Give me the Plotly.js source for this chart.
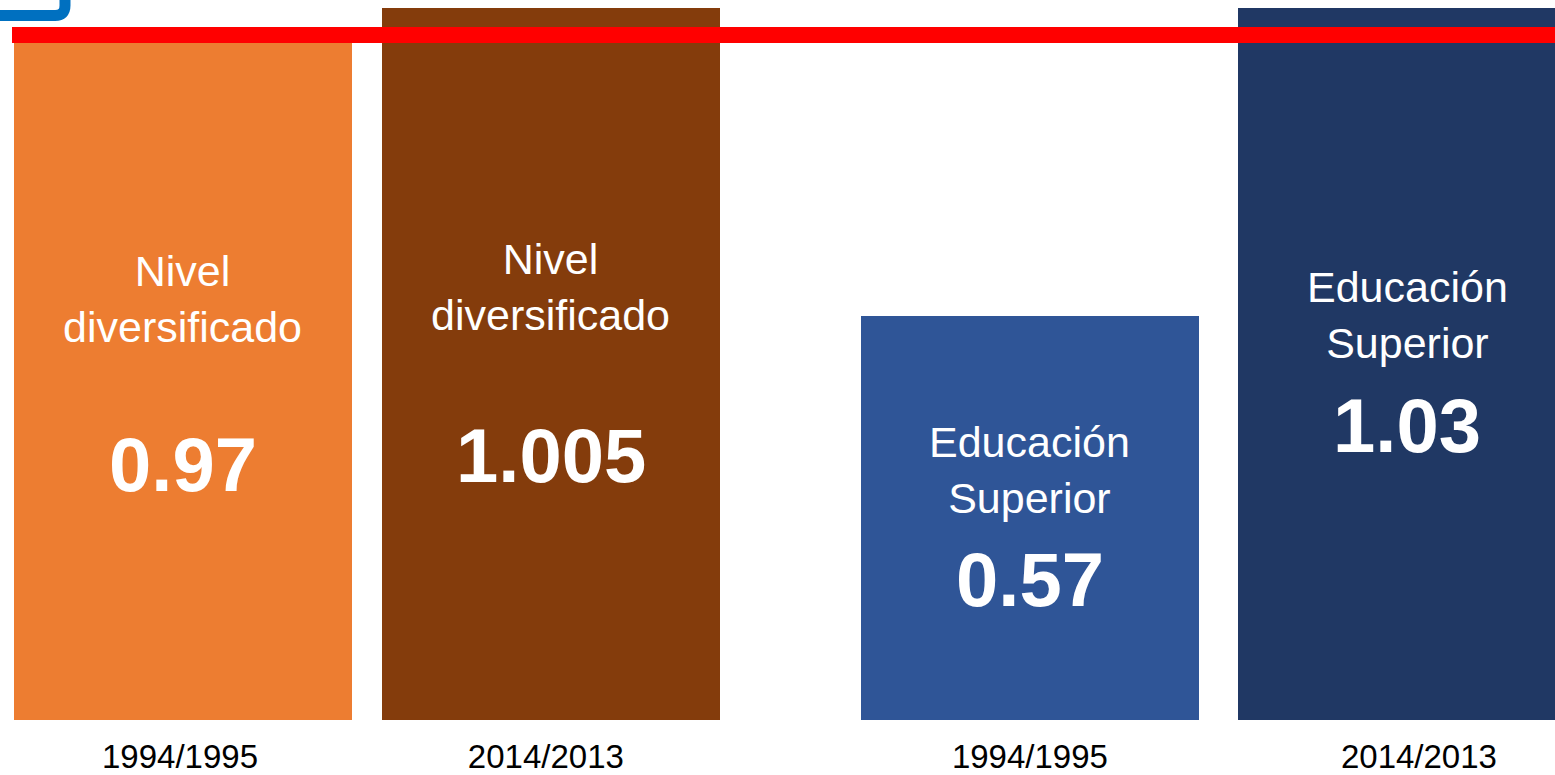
<!DOCTYPE html>
<html>
<head>
<meta charset="utf-8">
<script src="https://cdn.plot.ly/plotly-3.0.1.min.js"></script>
<style>
  html, body { margin: 0; padding: 0; background: #ffffff; }
  #chart { width: 1555px; height: 775px; }
</style>
</head>
<body>
<div id="chart"></div>
<script>
// ---- Data ----
const periods = ["1994/1995", "2014/2013", "1994/1995", "2014/2013"];
const levels = ["Nivel<br>diversificado", "Nivel<br>diversificado", "Educación<br>Superior", "Educación<br>Superior"];
const values = [0.97, 1.005, 0.57, 1.03];
const valueLabels = ["0.97", "1.005", "0.57", "1.03"];
const referenceLine = 0.967;

// ---- Layout configuration (positions / styles) ----
const barColors = ["#ED7D31", "#843C0C", "#2F5597", "#203864"];
const barPositions = [0.5414, 1.630, 3.047, 4.163];   // in bar-width units
const tickPositions = [0.5325, 1.615, 3.047, 4.198];
const levelLabelY = [0.594, 0.611, 0.353, 0.572];
const valueLabelY = [0.361, 0.374, 0.198, 0.416];

const trace = {
  type: "bar",
  x: barPositions,
  y: values,
  width: 1,
  marker: { color: barColors, line: { width: 0 } },
  hoverinfo: "skip"
};

const annotations = [];
for (let i = 0; i < values.length; i++) {
  annotations.push({
    x: barPositions[i], y: levelLabelY[i], xref: "x", yref: "y",
    text: levels[i], showarrow: false, xanchor: "center", yanchor: "middle",
    font: { family: "Liberation Sans, Arial, sans-serif", size: 43, color: "#ffffff" }
  });
  annotations.push({
    x: barPositions[i], y: valueLabelY[i], xref: "x", yref: "y",
    text: "<b>" + valueLabels[i] + "</b>", showarrow: false, xanchor: "center", yanchor: "middle",
    font: { family: "Liberation Sans, Arial, sans-serif", size: 76, color: "#ffffff" }
  });
}

const shapes = [
  {
    type: "line", xref: "paper", yref: "y",
    x0: 12 / 1555, x1: 1, y0: referenceLine, y1: referenceLine,
    line: { color: "#FF0000", width: 16 }, layer: "above"
  },
  {
    type: "path", xref: "paper", yref: "paper",
    path: "M -0.0064,0.98947 L 0.0354,0.98947 Q 0.0418,0.98947 0.0418,1.0035 L 0.0418,1.0253",
    line: { color: "#0070C0", width: 11 }, layer: "above"
  }
];

const layout = {
  width: 1555, height: 775,
  margin: { l: 0, r: 0, t: 8, b: 55, pad: 0 },
  paper_bgcolor: "#ffffff", plot_bgcolor: "#ffffff",
  showlegend: false,
  bargap: 0,
  xaxis: {
    range: [0, 1555 / 338],
    tickmode: "array", tickvals: tickPositions, ticktext: periods,
    ticks: "", showgrid: false, zeroline: false, showline: false,
    ticklabelstandoff: 14,
    tickfont: { family: "Liberation Sans, Arial, sans-serif", size: 33, color: "#000000" },
    fixedrange: true
  },
  yaxis: {
    range: [0, 1.005], visible: false, showgrid: false, zeroline: false, fixedrange: true
  },
  annotations: annotations,
  shapes: shapes
};

Plotly.newPlot("chart", [trace], layout, { displayModeBar: false, staticPlot: true });
</script>
</body>
</html>
